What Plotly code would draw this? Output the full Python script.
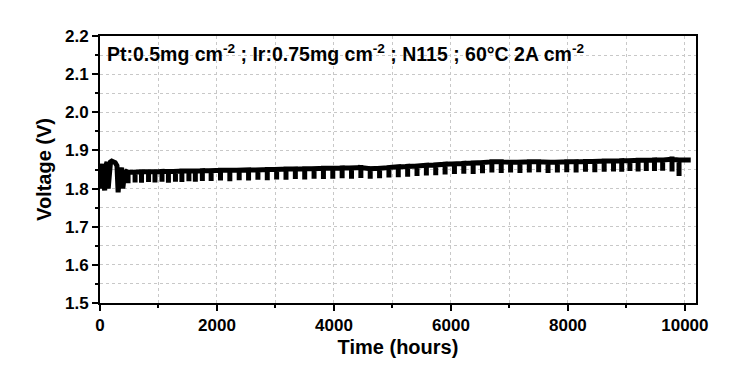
import plotly.graph_objects as go

# Initial conditioning period (hours, volts)
early_time = [0, 15, 30, 45, 60, 80, 100, 120, 140, 160, 180, 200, 230, 260, 290, 310, 330, 350, 370, 390, 420, 450]
early_volt = [1.835, 1.800, 1.850, 1.865, 1.820, 1.795, 1.860, 1.870, 1.800, 1.855, 1.870, 1.872, 1.870, 1.868,
              1.860, 1.790, 1.830, 1.850, 1.855, 1.800, 1.840, 1.845]

# Periodic interruptions: time of each drop, voltage before drop, voltage at bottom of drop
drop_time = [480, 600, 710, 830, 940, 1060, 1170, 1290, 1400, 1520, 1630, 1750,
             1900, 2060, 2220, 2380, 2540, 2700, 2860, 3020, 3180, 3340,
             3500, 3660, 3820, 3980, 4140, 4300, 4460, 4620, 4780, 4940,
             5100, 5260, 5420, 5580, 5740, 5900, 6060, 6220, 6380, 6540,
             6700, 6860, 7020, 7180, 7340, 7500, 7660, 7820, 7980, 8140,
             8300, 8460, 8620, 8780, 8920, 9060, 9200, 9340, 9480, 9620,
             9780, 9900]
drop_top = [1.843, 1.843, 1.844, 1.844, 1.844, 1.845, 1.845, 1.845, 1.846, 1.846, 1.846, 1.847,
            1.847, 1.848, 1.848, 1.848, 1.849, 1.849, 1.850, 1.850, 1.851, 1.851,
            1.852, 1.852, 1.853, 1.853, 1.854, 1.854, 1.855, 1.852, 1.853, 1.855,
            1.857, 1.858, 1.859, 1.861, 1.862, 1.864, 1.865, 1.866, 1.867, 1.868,
            1.870, 1.870, 1.869, 1.869, 1.870, 1.870, 1.869, 1.869, 1.870, 1.870,
            1.871, 1.871, 1.872, 1.872, 1.873, 1.873, 1.874, 1.874, 1.875, 1.875,
            1.877, 1.875]
drop_bottom = [1.814, 1.816, 1.815, 1.817, 1.816, 1.818, 1.815, 1.818, 1.817, 1.819, 1.818, 1.820,
               1.820, 1.821, 1.819, 1.822, 1.821, 1.823, 1.822, 1.824, 1.823, 1.825,
               1.824, 1.826, 1.825, 1.826, 1.827, 1.826, 1.828, 1.826, 1.827, 1.829,
               1.830, 1.831, 1.833, 1.834, 1.835, 1.837, 1.838, 1.839, 1.838, 1.840,
               1.842, 1.841, 1.842, 1.841, 1.842, 1.843, 1.841, 1.842, 1.843, 1.842,
               1.844, 1.843, 1.844, 1.845, 1.844, 1.846, 1.845, 1.846, 1.846, 1.847,
               1.845, 1.833]
end_time = [10100]
end_volt = [1.875]

x_ticks = [0, 2000, 4000, 6000, 8000, 10000]
y_ticks = [1.5, 1.6, 1.7, 1.8, 1.9, 2.0, 2.1, 2.2]

xs = list(early_time)
ys = list(early_volt)
for t, top, bot in zip(drop_time, drop_top, drop_bottom):
    xs += [t, t, t]
    ys += [top, bot, top]
xs += end_time
ys += end_volt

fig = go.Figure()
fig.add_trace(go.Scatter(x=xs, y=ys, mode="lines",
                         line=dict(color="black", width=5),
                         showlegend=False, hoverinfo="skip"))

font_family = "Liberation Sans, Arial, sans-serif"
axis_common = dict(
    showline=True, linecolor="black", linewidth=2, mirror=True,
    ticks="outside", ticklen=6, tickwidth=2, tickcolor="black",
    showgrid=True, gridcolor="#c8c8c8", gridwidth=1, griddash="dot",
    zeroline=False,
    tickfont=dict(family=font_family, size=17, color="black", weight="bold"),
)

fig.update_xaxes(
    **axis_common,
    range=[0, 10190], tickvals=x_ticks, ticktext=[str(v) for v in x_ticks],
    minor=dict(dtick=1000, tick0=0, ticks="outside", ticklen=3, tickwidth=2, tickcolor="black",
               showgrid=True, gridcolor="#c8c8c8", gridwidth=1, griddash="dot"),
    title=dict(text="<b>Time (hours)</b>", font=dict(family=font_family, size=20, color="black"), standoff=6),
)
fig.update_yaxes(
    **axis_common,
    range=[1.5, 2.2], tickvals=y_ticks, ticktext=[f"{v:.1f}" for v in y_ticks],
    minor=dict(dtick=0.05, tick0=1.5, ticks="outside", ticklen=3, tickwidth=2, tickcolor="black",
               showgrid=True, gridcolor="#c8c8c8", gridwidth=1, griddash="dot"),
    title=dict(text="<b>Voltage (V)</b>", font=dict(family=font_family, size=20, color="black"), standoff=8),
)

fig.add_annotation(
    x=0.008, y=0.99, xref="paper", yref="paper", xanchor="left", yanchor="top",
    text="<b>Pt:0.5mg cm<sup>-2</sup> ; Ir:0.75mg cm<sup>-2</sup> ; N115 ; 60°C 2A cm<sup>-2</sup></b>",
    showarrow=False, font=dict(family=font_family, size=19.5, color="black"),
)

# page body adds an 8px offset; compensate so the plot frame lands where the reference's does
fig.update_layout(
    width=740, height=376,
    margin=dict(l=92, r=52, t=28, b=81),
    paper_bgcolor="white", plot_bgcolor="white",
)

fig.write_html("out.html")
